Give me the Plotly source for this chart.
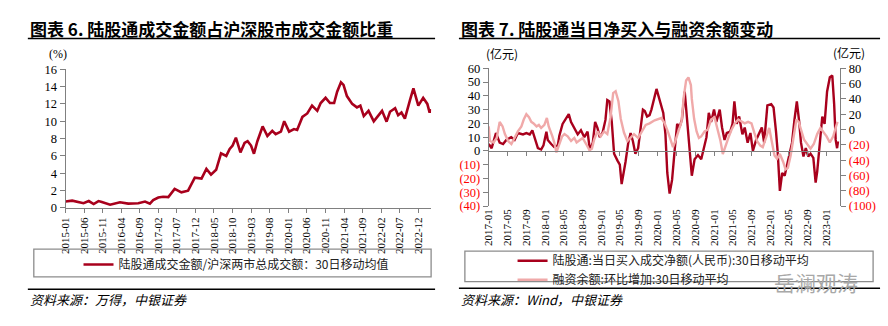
import plotly.graph_objects as go

W, H = 888, 326

# ---------------- data: left chart (share of turnover, %) ----------------
share_dates = [
    "2015-01-01", "2015-02-24", "2015-05-28", "2015-07-10", "2015-08-19", "2015-09-28",
    "2015-10-25", "2016-01-01", "2016-03-22", "2016-05-28", "2016-08-19", "2016-10-13",
    "2016-11-22", "2016-12-19", "2017-01-30", "2017-03-10", "2017-04-22", "2017-06-13",
    "2017-08-07", "2017-10-01", "2017-11-25", "2018-01-19", "2018-02-28", "2018-04-07",
    "2018-05-19", "2018-06-28", "2018-08-10", "2018-09-07", "2018-10-01", "2018-10-28",
    "2018-12-04", "2019-01-07", "2019-02-01", "2019-03-01", "2019-03-25", "2019-04-22",
    "2019-06-04", "2019-07-13", "2019-08-22", "2019-09-19", "2019-11-01", "2019-11-28",
    "2020-01-07", "2020-02-16", "2020-03-13", "2020-04-25", "2020-06-04", "2020-07-13",
    "2020-08-25", "2020-09-22", "2020-11-01", "2020-12-07", "2021-01-10", "2021-02-04",
    "2021-03-07", "2021-03-28", "2021-04-25", "2021-06-07", "2021-07-16", "2021-08-13",
    "2021-09-10", "2021-10-19", "2021-12-01", "2022-02-07", "2022-03-16", "2022-04-13",
    "2022-05-25", "2022-06-19", "2022-07-16", "2022-08-13", "2022-09-25", "2022-10-22",
    "2022-12-01", "2023-01-10", "2023-02-13", "2023-03-04", "2023-03-13",
]
share_values = [
    0.75, 0.85, 0.55, 0.8, 0.45, 0.8,
    0.7, 0.37, 0.66, 0.5, 0.55, 0.74,
    0.5, 0.9, 1.2, 1.3, 1.25, 2.2,
    1.8, 2.0, 3.5, 3.4, 4.5, 3.85,
    4.4, 6.3, 6.0, 6.8, 7.2, 8.1,
    6.4, 7.5, 7.7, 7.2, 6.25, 7.7,
    9.4, 8.3, 8.9, 8.5, 8.8, 10.0,
    8.8, 9.1, 9.0, 10.5, 10.9, 11.8,
    11.2, 12.1, 12.7, 12.1, 12.1, 13.4,
    14.5, 14.2, 12.9, 12.0, 11.6, 11.8,
    10.6, 11.2, 10.0, 11.2, 9.95, 11.1,
    11.5, 10.7, 11.0, 10.3, 12.5, 13.8,
    11.8, 12.7, 12.0, 11.0, 11.4,
]

# ---------------- data: right chart ----------------
nb_dates = [
    "2017-01-01", "2017-01-20", "2017-02-17", "2017-03-13", "2017-04-04", "2017-04-25",
    "2017-05-27", "2017-06-18", "2017-07-09", "2017-08-11", "2017-09-02", "2017-09-24",
    "2017-10-11", "2017-11-02", "2017-11-16", "2017-12-07", "2017-12-22", "2018-01-10",
    "2018-01-19", "2018-02-10", "2018-03-01", "2018-03-25", "2018-04-04", "2018-04-25",
    "2018-05-16", "2018-06-04", "2018-06-19", "2018-07-10", "2018-08-01", "2018-08-22",
    "2018-09-13", "2018-10-04", "2018-10-19", "2018-11-07", "2018-11-22", "2018-12-07",
    "2018-12-22", "2019-01-10", "2019-01-28", "2019-02-09", "2019-02-23", "2019-03-10",
    "2019-03-25", "2019-04-16", "2019-05-01", "2019-05-13", "2019-05-28", "2019-06-07",
    "2019-06-25", "2019-07-10", "2019-07-25", "2019-08-10", "2019-08-28", "2019-09-13",
    "2019-09-28", "2019-10-10", "2019-10-25", "2019-11-10", "2019-11-22", "2019-12-25",
    "2020-01-16", "2020-02-07", "2020-02-21", "2020-03-04", "2020-03-19", "2020-04-04",
    "2020-04-22", "2020-05-07", "2020-05-22", "2020-06-07", "2020-06-25", "2020-07-13",
    "2020-07-25", "2020-08-10", "2020-08-28", "2020-09-19", "2020-10-10", "2020-10-28",
    "2020-11-13", "2020-11-28", "2020-12-13", "2021-01-01", "2021-01-16", "2021-02-07",
    "2021-02-22", "2021-03-10", "2021-03-25", "2021-04-16", "2021-05-01", "2021-05-13",
    "2021-05-28", "2021-06-13", "2021-07-04", "2021-07-19", "2021-08-07", "2021-08-25",
    "2021-09-10", "2021-10-01", "2021-10-22", "2021-11-07", "2021-11-22", "2021-12-13",
    "2022-01-07", "2022-01-22", "2022-02-07", "2022-02-18", "2022-03-04", "2022-03-19",
    "2022-04-04", "2022-04-22", "2022-05-07", "2022-05-22", "2022-06-07", "2022-06-22",
    "2022-07-07", "2022-07-19", "2022-08-04", "2022-08-19", "2022-09-04", "2022-09-19",
    "2022-10-07", "2022-10-22", "2022-11-01", "2022-11-19", "2022-12-04", "2022-12-19",
    "2023-01-04", "2023-01-22", "2023-02-07", "2023-02-19", "2023-03-01", "2023-03-10",
    "2023-03-16",
]
nb_values = [
    5, 2, 13, 6, 5, 8,
    10, 8, 13, 12, 13, 12,
    15, 6, 2, 1, 4, 14,
    8, 5, 3, 4, 11, 19.6,
    23, 26.7, 21, 16.7, 12, 15,
    10, 14, 0.6, 6, 21, 16.7,
    10, 13.5, 22.5, 37, 36, 21,
    -2, -7, -10, -24, -15, -8,
    6, 13, 7, -2, 2, 16,
    30, 29, 25, 26, 30, 45,
    36, 27.6, 12, -16, -31, -21,
    2, 19.6, 17, 23, 43, 19.6,
    -1, -18, -6, -3, -6, 2,
    10, 27.6, 21, 30, 21, 30,
    17, 8, 13, 14, 19.6, 36,
    19.6, 25, 12, 17, 6, 13,
    0, 8, 13, 17, 6, 33,
    34, 31.5, 14, -1, -29, -16,
    -18, -8, -1, 6, 23, 36,
    21.5, 6, -4, 2, -4, -2,
    -5, -23, -15, 8, 25, 19.6,
    43, 53.5, 54.7, 34, 8, 2,
    7,
]

margin_dates = [
    "2017-01-01", "2017-01-09", "2017-02-01", "2017-02-22", "2017-03-13", "2017-04-01",
    "2017-04-16", "2017-05-07", "2017-05-28", "2017-06-18", "2017-07-09", "2017-08-01",
    "2017-08-16", "2017-09-02", "2017-09-19", "2017-10-04", "2017-10-19", "2017-11-07",
    "2017-11-22", "2017-12-07", "2017-12-28", "2018-01-13", "2018-01-25", "2018-02-18",
    "2018-03-02", "2018-03-16", "2018-04-04", "2018-04-22", "2018-05-07", "2018-05-28",
    "2018-06-19", "2018-07-10", "2018-07-25", "2018-08-10", "2018-09-02", "2018-09-25",
    "2018-10-16", "2018-11-01", "2018-11-16", "2018-12-07", "2018-12-28", "2019-01-19",
    "2019-02-09", "2019-03-02", "2019-03-19", "2019-04-04", "2019-04-22", "2019-05-07",
    "2019-05-28", "2019-06-19", "2019-07-10", "2019-08-01", "2019-08-28", "2019-09-19",
    "2019-10-16", "2019-11-10", "2019-12-13", "2020-01-25", "2020-02-16", "2020-03-10",
    "2020-03-25", "2020-04-10", "2020-04-25", "2020-05-13", "2020-06-04", "2020-06-19",
    "2020-07-04", "2020-07-19", "2020-08-04", "2020-08-10", "2020-08-25", "2020-09-10",
    "2020-09-25", "2020-10-10", "2020-11-01", "2020-11-22", "2020-12-13", "2021-01-04",
    "2021-01-22", "2021-02-12", "2021-02-27", "2021-03-13", "2021-04-04", "2021-04-25",
    "2021-05-16", "2021-06-07", "2021-06-28", "2021-07-19", "2021-08-10", "2021-09-01",
    "2021-09-19", "2021-10-07", "2021-10-28", "2021-11-13", "2021-12-04", "2021-12-25",
    "2022-01-10", "2022-01-28", "2022-02-13", "2022-03-04", "2022-03-25", "2022-04-10",
    "2022-04-25", "2022-05-13", "2022-05-28", "2022-06-19", "2022-07-04", "2022-07-19",
    "2022-08-07", "2022-08-28", "2022-09-19", "2022-10-10", "2022-11-01", "2022-11-22",
    "2022-12-10", "2023-01-01", "2023-01-22", "2023-02-13", "2023-02-28", "2023-03-13",
]
margin_values = [
    4, -15, -17, -11, 10, 4,
    -6, -15, -19, -11, -2.5, 4,
    13, 20, 16, 10, 8, 4,
    6, 2, 6, 15, 4, -9,
    -17, -30, -19, -9, -6, -9,
    -15, -11, -17, -14, -11, -19,
    -27, -25, -13, -2.5, -9, -2.5,
    -6, 16, 47.5, 50, 37, 14,
    -4, -15, -11, -6, -11, -2.5,
    6, 8, 12, 15, 8, -4,
    -13, -23, -15, -2.5, 10, 43,
    64, 68, 58, 40, 14, -2.5,
    -11, -9, -2.5, 0, 13, 16,
    2, -15, -32, -23, -11, 0,
    8, 13, 10, 8, 10, 8,
    -4, -15, -21, -23, -11, 2,
    -15, -34, -38, -32, -42, -52,
    -50, -34, -15, 13, 10, 0,
    -13, -19, -25, -19, -6, 2,
    -2.5, -9, -17, -9, 2, 10,
]

# ---------------- tick labels ----------------
share_tickvals = [0, 2, 4, 6, 8, 10, 12, 14, 16]
nb_tickvals = [-40, -30, -20, -10, 0, 10, 20, 30, 40, 50, 60]
margin_tickvals = [-100, -80, -60, -40, -20, 0, 20, 40, 60, 80]

NEG_RED = "#FF0000"


def fmt(v):
    if v < 0:
        return f'<span style="color:{NEG_RED}">({-v})</span>'
    return str(v)


nb_ticktext = [fmt(v) for v in nb_tickvals]
margin_ticktext = [fmt(v) for v in margin_tickvals]

titles = ["图表 6. 陆股通成交金额占沪深股市成交金额比重", "图表 7. 陆股通当日净买入与融资余额变动"]
sources = ["资料来源：万得，中银证券", "资料来源：Wind，中银证券"]
names = [
    "陆股通成交金额/沪深两市总成交额：30日移动均值",
    "陆股通:当日买入成交净额(人民币):30日移动平均",
    "融资余额:环比增加:30日移动平均",
]

# ---------------- style ----------------
DARK_RED = "#A8001C"
PINK = "#F0A9A9"
AXIS = "#808080"
SERIF = "Liberation Serif, Times New Roman, serif"
CJK = "Noto Sans CJK SC"


def px(x):
    return x / W


def py(y):
    return 1 - y / H


fig = go.Figure()
fig.add_trace(go.Scatter(x=share_dates, y=share_values, mode="lines", name=names[0],
                         line=dict(color=DARK_RED, width=2.6), xaxis="x", yaxis="y",
                         legend="legend"))
fig.add_trace(go.Scatter(x=nb_dates, y=nb_values, mode="lines", name=names[1],
                         line=dict(color=DARK_RED, width=2.4), xaxis="x2", yaxis="y2",
                         legend="legend2"))
fig.add_trace(go.Scatter(x=margin_dates, y=margin_values, mode="lines", name=names[2],
                         line=dict(color=PINK, width=2.4), xaxis="x2", yaxis="y3",
                         legend="legend2"))
# empty trace so the zero-line axis (x3) gets drawn
fig.add_trace(go.Scatter(x=[], y=[], xaxis="x3", yaxis="y2", showlegend=False,
                         hoverinfo="skip"))

tickfont_y = dict(family=SERIF, size=12.5, color="black")
tickfont_x = dict(family=SERIF, size=11, color="black")

fig.update_layout(
    width=W, height=H, margin=dict(l=0, r=0, t=0, b=0),
    paper_bgcolor="white", plot_bgcolor="white", showlegend=True,
    xaxis=dict(domain=[px(60), px(428)], anchor="y", type="date",
               range=["2015-01-01", "2023-03-16"], tick0="2015-01-01", dtick="M5",
               tickformat="%Y-%m", tickangle=-90, ticks="outside", ticklen=4,
               tickcolor=AXIS, showline=True, linecolor=AXIS, linewidth=1,
               showgrid=False, zeroline=False, tickfont=tickfont_x),
    yaxis=dict(domain=[py(210), py(65)], anchor="x", range=[0, 16],
               tickvals=share_tickvals, ticks="outside", ticklen=5, tickcolor=AXIS,
               showline=True, linecolor=AXIS, linewidth=1, showgrid=False,
               zeroline=False, tickfont=tickfont_y),
    xaxis2=dict(domain=[px(486), px(840)], anchor="y2", type="date",
                range=["2017-01-01", "2023-03-31"], tick0="2017-01-01", dtick="M4",
                tickformat="%Y-%m", tickangle=-90, ticks="", showline=False,
                showgrid=False, zeroline=False, tickfont=tickfont_x),
    xaxis3=dict(overlaying="x2", anchor="free", position=py(150.4), type="date",
                range=["2017-01-01", "2023-03-31"], tick0="2017-01-01", dtick="M4",
                ticks="outside", ticklen=4, tickcolor=AXIS, showticklabels=False,
                showline=True, linecolor=AXIS, linewidth=1, showgrid=False,
                zeroline=False),
    yaxis2=dict(domain=[py(208), py(64)], anchor="x2", range=[-40, 60],
                tickvals=nb_tickvals, ticktext=nb_ticktext, ticks="outside", ticklen=5,
                tickcolor=AXIS, showline=True, linecolor=AXIS, linewidth=1,
                showgrid=False, zeroline=False, tickfont=tickfont_y),
    yaxis3=dict(overlaying="y2", anchor="x2", side="right", range=[-100, 80],
                tickvals=margin_tickvals, ticktext=margin_ticktext, ticks="outside",
                ticklen=5, tickcolor=AXIS, showline=True, linecolor=AXIS, linewidth=1,
                showgrid=False, zeroline=False, tickfont=tickfont_y),
    legend=dict(x=px(73), y=py(269), xanchor="left", yanchor="middle",
                bgcolor="rgba(0,0,0,0)", font=dict(family=CJK, size=12, color="#222"),
                itemclick=False),
    legend2=dict(x=px(510), y=py(275), xanchor="left", yanchor="middle",
                 bgcolor="rgba(0,0,0,0)", font=dict(family=CJK, size=12, color="#222"),
                 tracegroupgap=0, itemclick=False),
)

shapes = []
# title underlines
shapes.append(dict(type="line", xref="paper", yref="paper", x0=px(22), x1=px(432),
                   y0=py(33), y1=py(33), line=dict(color="black", width=1.5)))
shapes.append(dict(type="line", xref="paper", yref="paper", x0=px(456), x1=px(880),
                   y0=py(33), y1=py(33), line=dict(color="black", width=1.5)))
# lines above sources
shapes.append(dict(type="line", xref="paper", yref="paper", x0=px(22), x1=px(432),
                   y0=py(295), y1=py(295), line=dict(color="black", width=1.5)))
shapes.append(dict(type="line", xref="paper", yref="paper", x0=px(456), x1=px(880),
                   y0=py(294), y1=py(294), line=dict(color="black", width=1.5)))
# legend boxes
shapes.append(dict(type="rect", xref="paper", yref="paper", x0=px(28), x1=px(428),
                   y0=py(282), y1=py(253), line=dict(color="#8c8c8c", width=1.3)))
shapes.append(dict(type="rect", xref="paper", yref="paper", x0=px(462), x1=px(873),
                   y0=py(287), y1=py(255), line=dict(color="#8c8c8c", width=1.3)))
fig.update_layout(shapes=shapes)

ann = []
ann.append(dict(text=f"<b>{titles[0]}</b>", x=px(22), y=py(22), xref="paper", yref="paper",
                xanchor="left", yanchor="middle", showarrow=False,
                font=dict(family=CJK, size=17, color="black")))
ann.append(dict(text=f"<b>{titles[1]}</b>", x=px(456), y=py(22), xref="paper", yref="paper",
                xanchor="left", yanchor="middle", showarrow=False,
                font=dict(family=CJK, size=17, color="black")))
ann.append(dict(text="(%)", x=px(52), y=py(49), xref="paper", yref="paper",
                xanchor="center", yanchor="middle", showarrow=False,
                font=dict(family=SERIF, size=12, color="black")))
ann.append(dict(text="(亿元)", x=px(499), y=py(49), xref="paper", yref="paper",
                xanchor="center", yanchor="middle", showarrow=False,
                font=dict(family=CJK, size=12, color="black")))
ann.append(dict(text="(亿元)", x=px(849), y=py(48), xref="paper", yref="paper",
                xanchor="center", yanchor="middle", showarrow=False,
                font=dict(family=CJK, size=12, color="black")))
ann.append(dict(text=f"<i>{sources[0]}</i>", x=px(22), y=py(306), xref="paper", yref="paper",
                xanchor="left", yanchor="middle", showarrow=False,
                font=dict(family=CJK, size=13, color="black")))
ann.append(dict(text=f"<i>{sources[1]}</i>", x=px(456), y=py(306), xref="paper", yref="paper",
                xanchor="left", yanchor="middle", showarrow=False,
                font=dict(family=CJK, size=13, color="black")))
ann.append(dict(text="岳澜观涛", x=px(816), y=py(287), xref="paper", yref="paper",
                xanchor="center", yanchor="middle", showarrow=False,
                font=dict(family=CJK, size=21, color="#a8a8a8")))
fig.update_layout(annotations=ann)

fig.write_html("out.html")
